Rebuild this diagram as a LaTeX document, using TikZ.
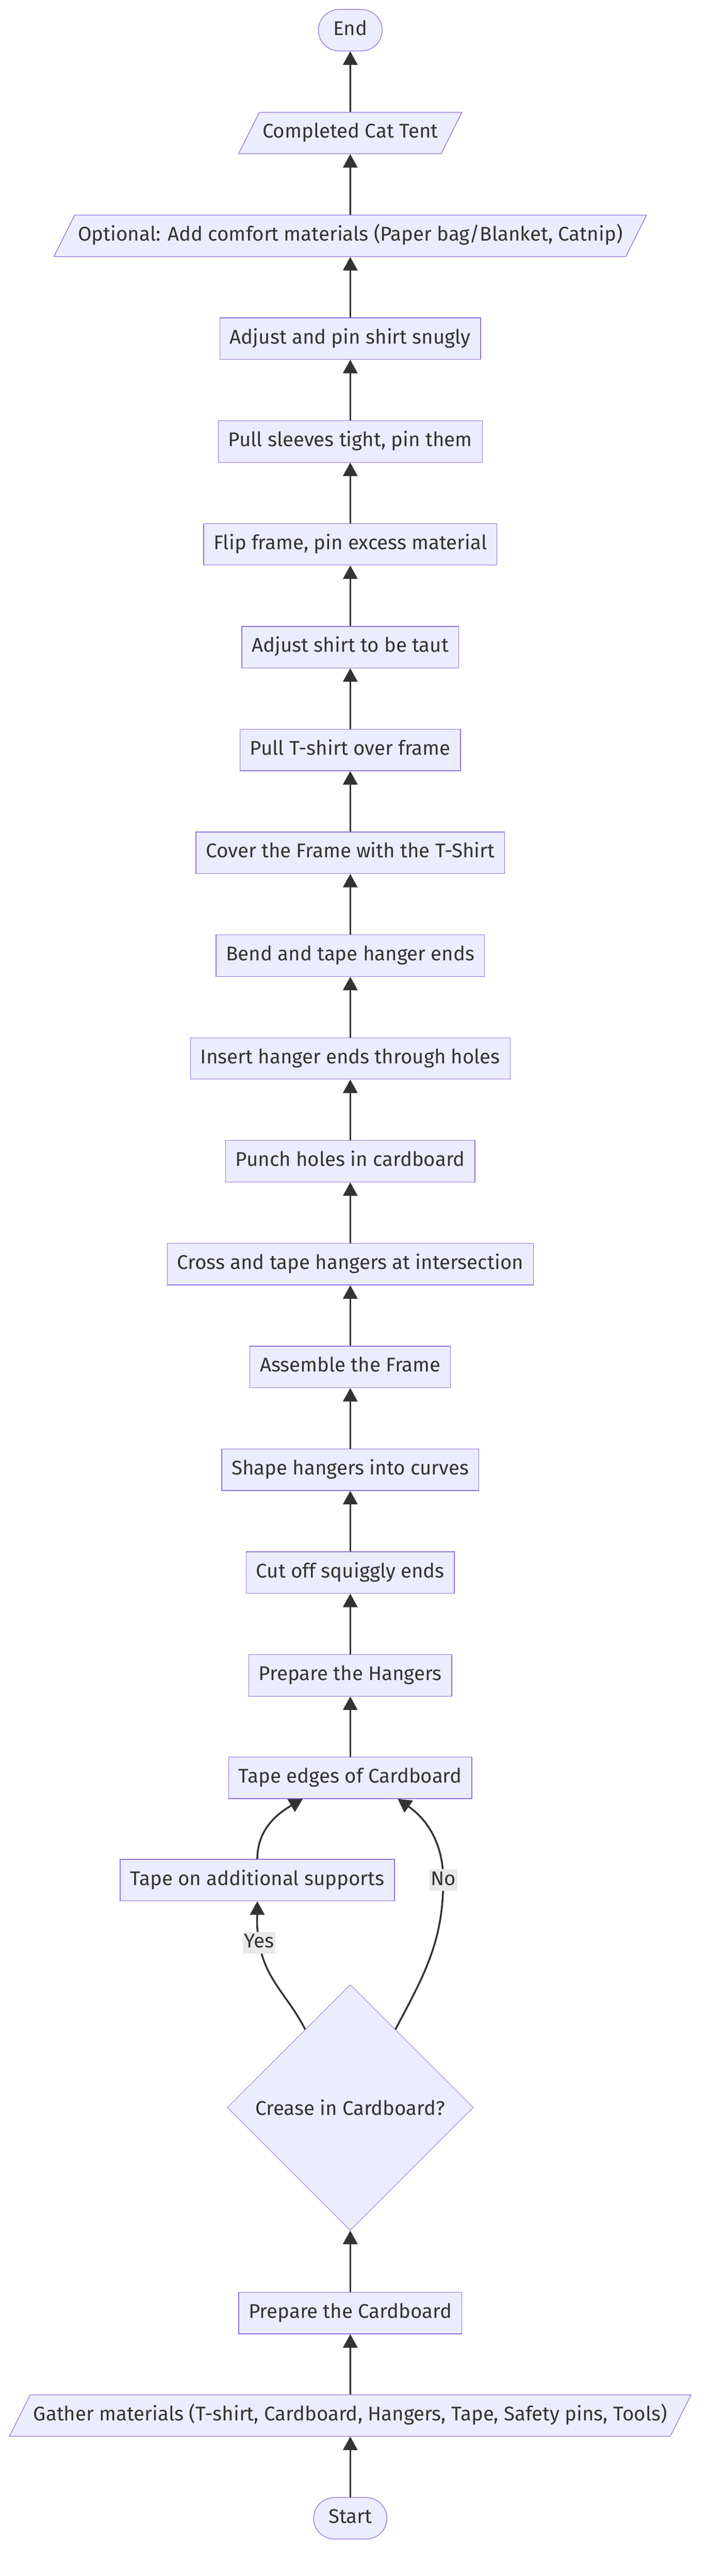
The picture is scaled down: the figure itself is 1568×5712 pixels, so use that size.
\documentclass[tikz,border=0pt]{standalone}
\usepackage{fontspec}
\setmainfont{Fira Sans}
\usepackage{tikz}
\usetikzlibrary{arrows.meta}
\usetikzlibrary{shapes.geometric}
\definecolor{boxfill}{HTML}{ECECFF}
\definecolor{boxline}{HTML}{9370DB}
\definecolor{ink}{HTML}{333333}
\definecolor{lblbg}{HTML}{E8E8E8}
\tikzstyle{stepbox}=[rectangle, draw=boxline, fill=boxfill, line width=.75pt, text=ink, text height=16pt, text depth=5pt, inner ysep=12.5pt, inner xsep=11pt, font=\fontsize{22}{27}\selectfont]
\tikzstyle{io}=[trapezium, trapezium left angle=63.43, trapezium right angle=116.57, draw=boxline, fill=boxfill, line width=.75pt, text=ink, text height=16pt, text depth=5pt, inner ysep=12.5pt, inner xsep=3.5pt, font=\fontsize{22}{27}\selectfont]
\tikzstyle{term}=[rectangle, rounded corners=23pt, draw=boxline, fill=boxfill, line width=.75pt, text=ink, text height=16pt, text depth=5pt, inner ysep=12.5pt, inner xsep=16.5pt, font=\fontsize{22}{27}\selectfont]
\tikzstyle{decide}=[diamond, aspect=1, draw=boxline, fill=boxfill, line width=.5pt, text=ink, minimum width=272.5pt, minimum height=272.5pt, inner sep=0pt, font=\fontsize{22}{27}\selectfont]
\tikzstyle{lbl}=[rectangle, fill=lblbg, text=ink, text height=16pt, text depth=5pt, inner xsep=1.5pt, inner ysep=1.5pt, font=\fontsize{22}{27}\selectfont]
\tikzstyle{flow}=[-{Triangle[length=15pt,width=16pt]}, line width=2pt, draw=ink]

\begin{document}
\begin{tikzpicture}[x=.5pt, y=-.5pt]

      \useasboundingbox (0,0) rectangle (1568,5712);

      \node[term] (End) at (776,67) {End};
      \node[io] (tent) at (776,295) {Completed Cat Tent};
      \node[io] (comfort) at (776,523) {Optional: Add comfort materials (Paper bag/Blanket, Catnip)};
      \node[stepbox] (snug) at (776,751) {Adjust and pin shirt snugly};
      \node[stepbox] (sleeves) at (776,979) {Pull sleeves tight, pin them};
      \node[stepbox] (flip) at (776,1207) {Flip frame, pin excess material};
      \node[stepbox] (taut) at (776,1435) {Adjust shirt to be taut};
      \node[stepbox] (pull) at (776,1663) {Pull T-shirt over frame};
      \node[stepbox] (cover) at (776,1891) {Cover the Frame with the T-Shirt};
      \node[stepbox] (bend) at (776,2119) {Bend and tape hanger ends};
      \node[stepbox] (insert) at (776,2347) {Insert hanger ends through holes};
      \node[stepbox] (punch) at (776,2575) {Punch holes in cardboard};
      \node[stepbox] (cross) at (776,2803) {Cross and tape hangers at intersection};
      \node[stepbox] (frame) at (776,3031) {Assemble the Frame};
      \node[stepbox] (shape) at (776,3259) {Shape hangers into curves};
      \node[stepbox] (cut) at (776,3487) {Cut off squiggly ends};
      \node[stepbox] (hangers) at (776,3715) {Prepare the Hangers};
      \node[stepbox] (edges) at (776,3942) {Tape edges of Cardboard};
      \node[stepbox] (supports) at (570,4169) {Tape on additional supports};
      \node[decide] (crease) at (776,4673) {Crease in Cardboard?};
      \node[stepbox] (cardboard) at (776,5129) {Prepare the Cardboard};
      \node[io] (gather) at (776,5356) {Gather materials (T-shirt, Cardboard, Hangers, Tape, Safety pins, Tools)};
      \node[term] (Start) at (776,5584) {Start};

      \coordinate (yesbend) at (574,4308);
      \coordinate (nobend) at (982,4169);

      % straight steps, bottom to top
      \foreach \a/\b in {Start/gather, gather/cardboard, cardboard/crease,
                         edges/hangers, hangers/cut, cut/shape, shape/frame,
                         frame/cross, cross/punch, punch/insert, insert/bend,
                         bend/cover, cover/pull, pull/taut, taut/flip,
                         flip/sleeves, sleeves/snug, snug/comfort,
                         comfort/tent, tent/End}
        \draw[flow] (\a) -- (\b);

      % decision
      \draw[flow] (crease.120) to[out=117, in=-80] (yesbend) node[lbl] {Yes}
                  to[out=100, in=-90] (supports.south);
      \draw[flow] (crease.60) to[out=62, in=-90] (nobend) node[lbl] {No}
                  to[out=90, in=-35] (edges.-24.5);
      \draw[flow] (supports.north) to[out=90, in=-150] (edges.-156);

\end{tikzpicture}
\end{document}
